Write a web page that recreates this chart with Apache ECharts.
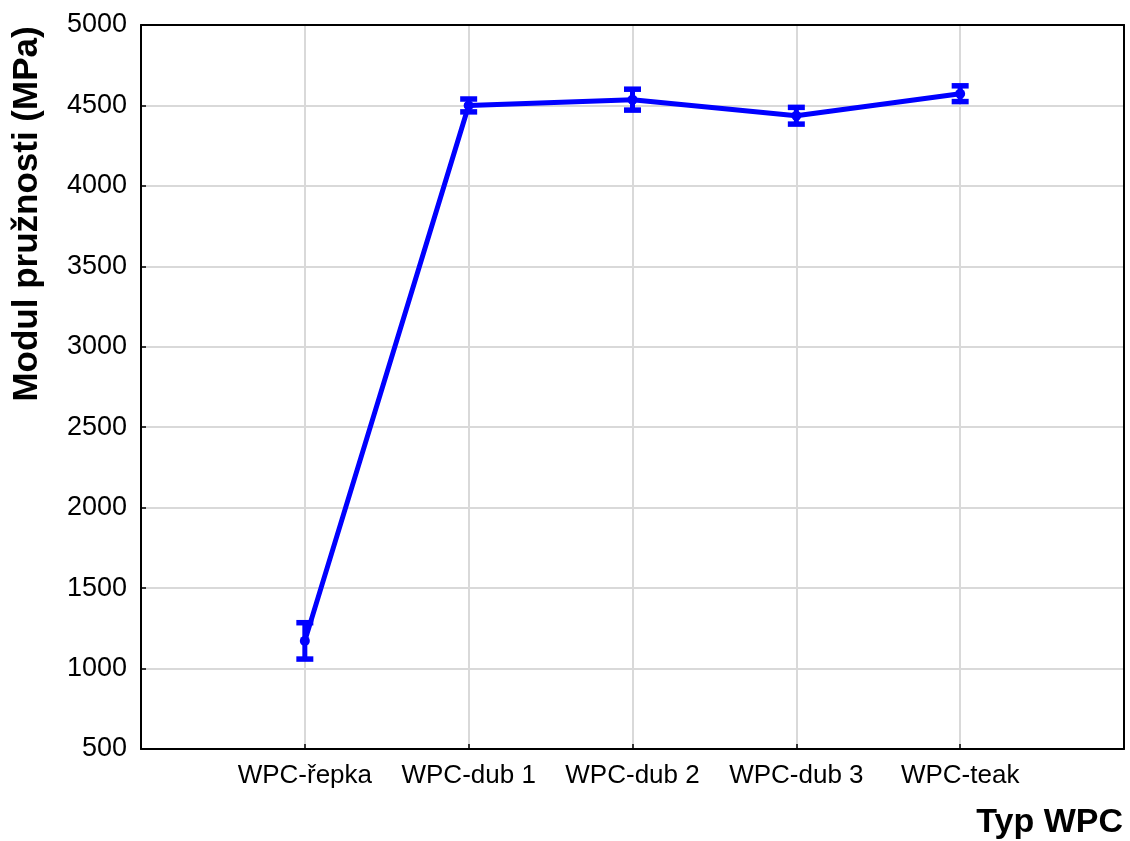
<!DOCTYPE html>
<html>
<head>
<meta charset="utf-8">
<script src="https://cdn.jsdelivr.net/npm/echarts@6/dist/echarts.min.js"></script>
<style>
  html, body { margin: 0; padding: 0; background: #fff; }
  #chart { width: 1130px; height: 841px; }
</style>
</head>
<body>
<div id="chart"></div>
<script>
// Wood-plastic composite types and their mean modulus of elasticity (MPa)
const categories = ['WPC-řepka', 'WPC-dub 1', 'WPC-dub 2', 'WPC-dub 3', 'WPC-teak'];
const means = [1172, 4500, 4536, 4436, 4573];
// Half-width of the interval drawn around each mean
const errors = [113, 40, 65, 52, 49];
const yTicks = { min: 500, max: 5000, step: 500 };
const yTitle = 'Modul pružnosti (MPa)';
const xTitle = 'Typ WPC';

// One empty slot on each side so the points sit inside the frame
const axisCats = [''].concat(categories, ['']);
const lineData = categories.map((c, i) => [i + 1, means[i]]);
const errData = categories.map((c, i) => [i + 1, means[i] - errors[i], means[i] + errors[i]]);

const BLUE = '#0000ff';
const FONT = '"Liberation Sans", Arial, sans-serif';

const chart = echarts.init(document.getElementById('chart'), null, { renderer: 'canvas' });

const skipEnds = (idx) => idx > 0 && idx < axisCats.length - 1;

chart.setOption({
  animation: false,
  backgroundColor: '#ffffff',
  grid: { left: 141, right: 6, top: 25, bottom: 92, containLabel: false, outerBoundsMode: 'none' },
  title: {
    text: xTitle,
    right: 7,
    top: 806,
    padding: 0,
    textStyle: { fontFamily: FONT, fontSize: 34, fontWeight: 'bold', color: '#000' }
  },
  graphic: [{
    type: 'text',
    x: 27,
    y: 214,
    rotation: Math.PI / 2,
    style: {
      text: yTitle,
      fontFamily: FONT,
      fontSize: 35,
      fontWeight: 'bold',
      fill: '#000',
      align: 'center',
      verticalAlign: 'middle'
    }
  }],
  xAxis: [{
    type: 'category',
    data: axisCats,
    boundaryGap: false,
    axisLine: { lineStyle: { color: '#000', width: 2 } },
    axisTick: { show: true, inside: true, length: 5, interval: skipEnds, lineStyle: { color: '#000', width: 1.5 } },
    axisLabel: { interval: 0, margin: 14, fontFamily: FONT, fontSize: 26, color: '#000' },
    splitLine: { show: true, interval: skipEnds, lineStyle: { color: '#d9d9d9', width: 2 } }
  }, {
    type: 'category',
    data: axisCats,
    boundaryGap: false,
    position: 'top',
    axisLine: { lineStyle: { color: '#000', width: 2 } },
    axisTick: { show: false },
    axisLabel: { show: false },
    splitLine: { show: false }
  }],
  yAxis: [{
    type: 'value',
    min: yTicks.min,
    max: yTicks.max,
    interval: yTicks.step,
    axisLine: { show: true, lineStyle: { color: '#000', width: 2 } },
    axisTick: { show: true, inside: true, length: 5, lineStyle: { color: '#000', width: 1.5 } },
    axisLabel: { margin: 14, fontFamily: FONT, fontSize: 27, color: '#000', formatter: (v) => String(v) },
    splitLine: { show: true, lineStyle: { color: '#d9d9d9', width: 2 } }
  }, {
    type: 'value',
    min: yTicks.min,
    max: yTicks.max,
    interval: yTicks.step,
    position: 'right',
    axisLine: { show: true, lineStyle: { color: '#000', width: 2 } },
    axisTick: { show: false },
    axisLabel: { show: false },
    splitLine: { show: false }
  }],
  series: [{
    type: 'line',
    data: lineData,
    symbol: 'circle',
    symbolSize: 10,
    lineStyle: { color: BLUE, width: 5 },
    itemStyle: { color: BLUE },
    z: 3
  }, {
    type: 'custom',
    data: errData,
    encode: { x: 0, y: [1, 2] },
    z: 4,
    renderItem: function (params, api) {
      const x = api.value(0);
      const lo = api.coord([x, api.value(1)]);
      const hi = api.coord([x, api.value(2)]);
      const half = 8.5;
      const cap = { stroke: BLUE, lineWidth: 5.5 };
      return {
        type: 'group',
        children: [
          { type: 'line', shape: { x1: lo[0], y1: lo[1], x2: hi[0], y2: hi[1] }, style: { stroke: BLUE, lineWidth: 5 } },
          { type: 'line', shape: { x1: lo[0] - half, y1: lo[1], x2: lo[0] + half, y2: lo[1] }, style: cap },
          { type: 'line', shape: { x1: hi[0] - half, y1: hi[1], x2: hi[0] + half, y2: hi[1] }, style: cap }
        ]
      };
    }
  }]
});
</script>
</body>
</html>
